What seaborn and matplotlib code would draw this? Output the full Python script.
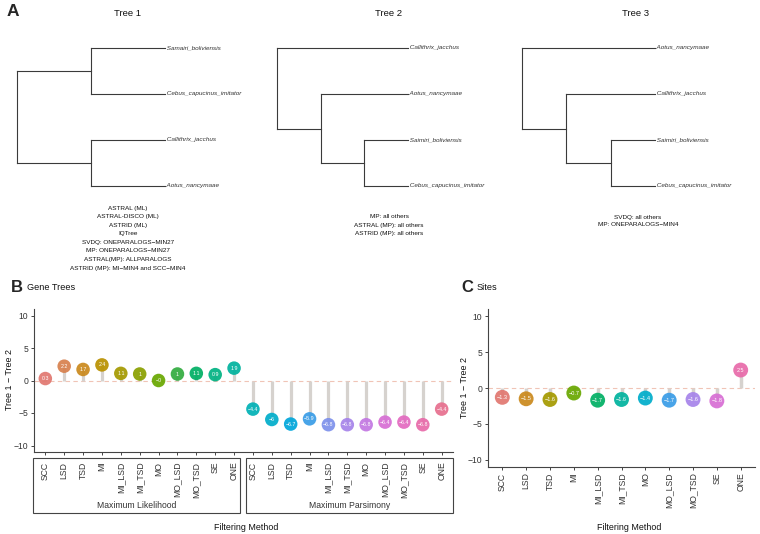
import numpy as np
import pandas as pd
import matplotlib
matplotlib.use("Agg")
import matplotlib.pyplot as plt
import seaborn as sns
from matplotlib.patches import Rectangle

# ---------------- data ----------------
methods = ["SCC", "LSD", "TSD", "MI", "MI_LSD", "MI_TSD", "MO", "MO_LSD", "MO_TSD", "SE", "ONE"]
facets = ["Maximum Likelihood", "Maximum Parsimony"]
gene_ml = [0.3, 2.2, 1.7, 2.4, 1.1, 1.0, -0.0, 1.0, 1.1, 0.9, 1.9]
gene_mp = [-4.4, -6.0, -6.7, -5.9, -6.8, -6.8, -6.8, -6.4, -6.4, -6.8, -4.4]
sites = [-1.3, -1.5, -1.6, -0.7, -1.7, -1.6, -1.4, -1.7, -1.6, -1.8, 2.5]

tree1 = (("Samairi_boliviensis", "Cebus_capucinus_imitator"), ("Callithrix_jacchus", "Aotus_nancymaae"))
tree2 = ("Callithrix_jacchus", ("Aotus_nancymaae", ("Saimiri_boliviensis", "Cebus_capucinus_imitator")))
tree3 = ("Aotus_nancymaae", ("Callithrix_jacchus", ("Saimiri_boliviensis", "Cebus_capucinus_imitator")))
tree_titles = ["Tree 1", "Tree 2", "Tree 3"]
notes1 = ["ASTRAL (ML)", "ASTRAL-DISCO (ML)", "ASTRID (ML)", "IQTree",
          "SVDQ: ONEPARALOGS\u2212MIN27", "MP: ONEPARALOGS\u2212MIN27",
          "ASTRAL(MP): ALLPARALOGS", "ASTRID (MP): MI\u2212MIN4 and SCC\u2212MIN4"]
notes2 = ["MP: all others", "ASTRAL (MP): all others", "ASTRID (MP): all others"]
notes3 = ["SVDQ: all others", "MP: ONEPARALOGS\u2212MIN4"]

# ---------------- style ----------------
sns.set_style("ticks")
plt.rcParams["font.family"] = ["Liberation Sans", "DejaVu Sans"]
W, H = 760, 534
fig = plt.figure(figsize=(W / 100, H / 100), dpi=100)
DARK = "#333333"
STEM = "#d6d2ce"
ZERO = "#f0c4b6"


def hcl(h, c=80.0, l=62.0):
    h = np.deg2rad(h)
    u, v = c * np.cos(h), c * np.sin(h)
    Xn, Yn, Zn = 0.95047, 1.0, 1.08883
    den = Xn + 15 * Yn + 3 * Zn
    un, vn = 4 * Xn / den, 9 * Yn / den
    Y = Yn * ((l + 16) / 116) ** 3
    up, vp = u / (13 * l) + un, v / (13 * l) + vn
    X = Y * 9 * up / (4 * vp)
    Z = Y * (12 - 3 * up - 20 * vp) / (4 * vp)
    M = np.array([[3.2406, -1.5372, -0.4986], [-0.9689, 1.8758, 0.0415], [0.0557, -0.2040, 1.0570]])
    rgb = M @ np.array([X, Y, Z])
    rgb = np.where(rgb <= 0.0031308, 12.92 * rgb, 1.055 * np.abs(rgb) ** (1 / 2.4) - 0.055)
    return tuple(np.clip(rgb, 0, 1))


def hue_pal(n):
    return [hcl(h) for h in np.linspace(15, 375, n + 1)[:-1]]


def fx(px):
    return px / W


def fy(py):
    return 1 - py / H


# ---------------- panel A: trees ----------------
def tree_layout(tree):
    def depth(t):
        return 0 if isinstance(t, str) else 1 + max(depth(c) for c in t)
    D = depth(tree)
    tips, segs = [], []

    def rec(t, d):
        if isinstance(t, str):
            y = len(tips)
            tips.append((t, D, y))
            return D, y
        pts = [rec(c, d + 1) for c in t]
        ys = [p[1] for p in pts]
        segs.append(([d, d], [min(ys), max(ys)]))
        for cx, cy in pts:
            segs.append(([d, cx], [cy, cy]))
        return d, float(np.mean(ys))

    rec(tree, 0)
    return D, tips, segs


tree_boxes = [(17, 165), (277, 408), (522, 655)]
title_x = [128, 389, 635]
for tree, (x0, x1), title, tx in zip([tree1, tree2, tree3], tree_boxes, tree_titles, title_x):
    D, tips, segs = tree_layout(tree)
    ax = fig.add_axes([fx(x0), fy(186), fx(x1 - x0), (186 - 48) / H])
    ax.set_xlim(0, D)
    ax.set_ylim(len(tips) - 1, 0)
    ax.axis("off")
    for xs, ys in segs:
        ax.plot(xs, ys, color="#3a3a3a", lw=0.8, solid_capstyle="projecting", clip_on=False)
    for name, d, y in tips:
        ax.text(d, y, " " + name, ha="left", va="center", fontsize=4.6,
                style="italic", color=DARK)
    fig.text(fx(tx), fy(13), title, ha="center", va="center", fontsize=6.8, color="#111111")

for notes, cx, y0, dy in [(notes1, 128, 208, 8.6), (notes2, 389, 217, 8.0), (notes3, 638, 217, 8.0)]:
    for i, line in enumerate(notes):
        fig.text(fx(cx), fy(y0 + i * dy), line, ha="center", va="center", fontsize=4.6, color="#111111")

fig.text(fx(7), fy(12), "A", ha="left", va="center", fontsize=12.5, fontweight="bold")


# ---------------- lollipop helper ----------------
def lollipop(ax, df, palette, size, stem_w, fs):
    ax.axhline(0, color=ZERO, lw=0.8, ls=(0, (4, 3)), zorder=0.5)
    ax.vlines(df["pos"], 0, df["val"], color=STEM, lw=stem_w, zorder=1)
    sns.scatterplot(data=df, x="pos", y="val", hue="key", hue_order=list(df["key"]),
                    palette=palette, s=size, linewidth=0, alpha=0.92, legend=False, ax=ax, zorder=3)
    for p, v in zip(df["pos"], df["val"]):
        lab = f"{v:g}".replace("-", "\u2212")
        ax.text(p, v, lab, ha="center", va="center", fontsize=fs, color="white", zorder=4)
    ax.set_ylim(-11, 11)
    ax.set_yticks([-10, -5, 0, 5, 10])
    ax.set_xlabel("")
    ax.set_ylabel("")
    for s in ["top", "right"]:
        ax.spines[s].set_visible(False)
    for s in ["left", "bottom"]:
        ax.spines[s].set_color("#444444")
        ax.spines[s].set_linewidth(0.8)
    ax.tick_params(axis="both", length=2.5, width=0.7, color="#444444", labelsize=6.2,
                   labelcolor=DARK)
    ax.set_facecolor("none")


# ---------------- panel B ----------------
df_b = pd.DataFrame({
    "method": methods + methods,
    "facet": [facets[0]] * len(methods) + [facets[1]] * len(methods),
    "val": gene_ml + gene_mp,
})
df_b["pos"] = np.arange(len(df_b))
df_b["key"] = df_b["facet"] + "_" + df_b["method"]

axb = fig.add_axes([fx(34), fy(452), fx(453 - 34), (452 - 309) / H])
lollipop(axb, df_b, hue_pal(len(df_b)), 95, 2.3, 3.8)
axb.set_xlim(-0.6, len(df_b) - 0.4)
axb.set_xticks(df_b["pos"])
axb.set_xticklabels(df_b["method"], rotation=90, va="top", ha="center")
axb.tick_params(axis="x", pad=4.5)
axb.tick_params(axis="y", pad=1.5)

# facet strips (outside, enclosing tick labels)
fig.canvas.draw()
to_px = lambda xd: axb.transData.transform((xd, 0))[0]
n = len(methods)
bounds = [(to_px(-0.6) - 1, to_px(n - 0.5) - 3), (to_px(n - 0.5) + 3, to_px(2 * n - 0.4))]
for (bx0, bx1), lab in zip(bounds, facets):
    fig.add_artist(Rectangle((bx0 / W, fy(513)), (bx1 - bx0) / W, (513 - 458) / H,
                             transform=fig.transFigure, fill=False, ec="#444444", lw=0.8))
    fig.text((bx0 + bx1) / 2 / W, fy(506), lab, ha="center", va="center", fontsize=6.2, color=DARK)

fig.text(fx(10), fy(380), "Tree 1 \u2212 Tree 2", rotation=90, ha="center", va="center",
         fontsize=6.4, color="#111111")
fig.text(fx(246), fy(527), "Filtering Method", ha="center", va="center", fontsize=6.4, color="#111111")
fig.text(fx(11), fy(287), "B", ha="left", va="center", fontsize=12, fontweight="bold")
fig.text(fx(27), fy(288), "Gene Trees", ha="left", va="center", fontsize=6.6, color="#111111")

# ---------------- panel C ----------------
df_c = pd.DataFrame({"method": methods, "val": sites})
df_c["pos"] = np.arange(len(df_c))
df_c["key"] = df_c["method"]

axc = fig.add_axes([fx(488), fy(467), fx(755 - 488), (467 - 309) / H])
lollipop(axc, df_c, hue_pal(len(df_c)), 115, 2.5, 4.0)
axc.set_xlim(-0.6, len(df_c) - 0.4)
axc.set_xticks(df_c["pos"])
axc.set_xticklabels(df_c["method"], rotation=90, va="top", ha="center")
axc.tick_params(axis="x", pad=1.5)
axc.tick_params(axis="y", pad=1.5)

fig.text(fx(465), fy(388), "Tree 1 \u2212 Tree 2", rotation=90, ha="center", va="center",
         fontsize=6.4, color="#111111")
fig.text(fx(629), fy(527), "Filtering Method", ha="center", va="center", fontsize=6.4, color="#111111")
fig.text(fx(461), fy(287), "C", ha="left", va="center", fontsize=12, fontweight="bold")
fig.text(fx(477), fy(288), "Sites", ha="left", va="center", fontsize=6.6, color="#111111")

fig.savefig("out.png", dpi=100, facecolor="white")
